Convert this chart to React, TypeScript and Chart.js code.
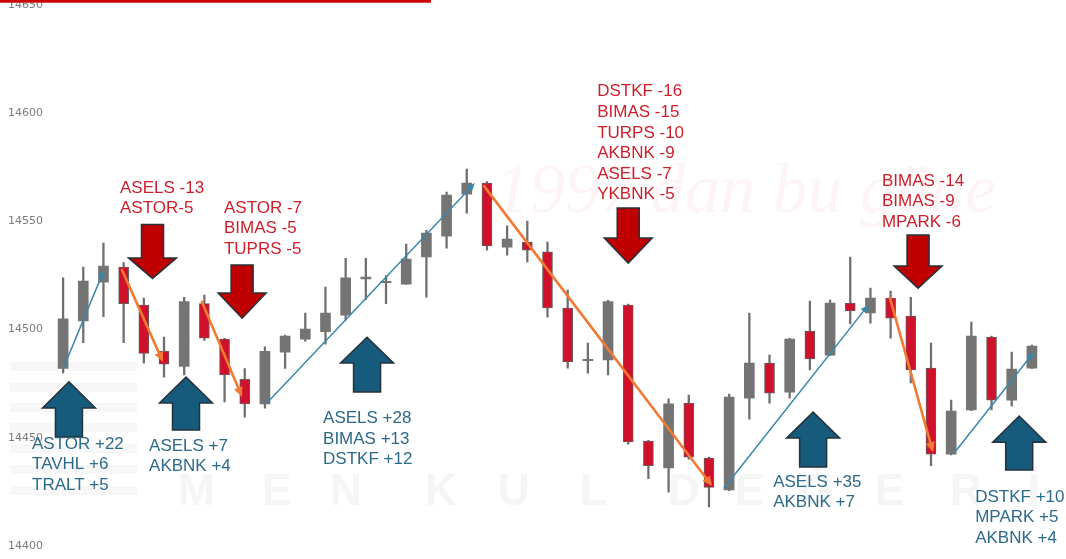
import React, { useEffect, useRef } from "react";
import { Chart, registerables } from "chart.js";

Chart.register(...registerables);

// ---- Data ----
const candleLabels = [
  "1", "2", "3", "4", "5", "6", "7", "8", "9", "10",
  "11", "12", "13", "14", "15", "16", "17", "18", "19", "20",
  "21", "22", "23", "24", "25", "26", "27", "28", "29", "30",
  "31", "32", "33", "34", "35", "36", "37", "38", "39", "40",
  "41", "42", "43", "44", "45", "46", "47", "48", "49",
];

const opens = [
  14482, 14504, 14522, 14529, 14511.4, 14490, 14483, 14512, 14495.6, 14477,
  14465.6, 14489.6, 14495.6, 14499, 14506.7, 14523.5, 14521.7, 14521, 14533.6, 14543.3,
  14562.7, 14567.8, 14538.2, 14540.5, 14536, 14510, 14485.6, 14486, 14511.4, 14448.4,
  14436, 14466, 14440.6, 14425.8, 14468.3, 14484.5, 14471, 14499.3, 14488.2, 14512.3,
  14507.7, 14514.6, 14506.3, 14482.2, 14442.4, 14462.8, 14496.6, 14467.4, 14482.2,
];
const highs = [
  14524, 14529, 14540, 14531, 14514.6, 14496.6, 14515, 14516, 14496, 14482,
  14492, 14497.5, 14507.7, 14519.7, 14533, 14533, 14525, 14539.6, 14546, 14563.7,
  14574.3, 14568.5, 14548, 14550.2, 14540.5, 14518.3, 14493.8, 14513.5, 14511.8, 14448.8,
  14468, 14469.7, 14441, 14470.2, 14507.7, 14488.2, 14496, 14513.2, 14513.7, 14533.6,
  14519.2, 14517.8, 14515, 14493.8, 14467.4, 14503.5, 14497, 14489.6, 14492.8,
];
const lows = [
  14480, 14494, 14506, 14494, 14484.5, 14478, 14479, 14495, 14466.5, 14459.5,
  14463.7, 14482, 14494.7, 14493.3, 14504.4, 14514, 14512, 14521, 14515, 14537.7,
  14553.9, 14536.8, 14534.5, 14531.3, 14505.8, 14482.2, 14479.9, 14479, 14447, 14431,
  14424.8, 14440, 14418, 14425.5, 14458.6, 14466, 14468.3, 14481.3, 14488, 14502.6,
  14503, 14496.1, 14475.3, 14437, 14442, 14462.5, 14462.8, 14464.6, 14482,
];
const closes = [
  14505, 14522.5, 14529.4, 14512, 14489, 14484, 14513, 14496, 14479, 14465.6,
  14490, 14497, 14500.3, 14507.7, 14524, 14524.3, 14522.3, 14532.6, 14544.7, 14562.3,
  14567.8, 14538.7, 14541.9, 14536.8, 14510, 14485, 14486.3, 14513, 14448, 14437,
  14465.6, 14441, 14427, 14468.8, 14484.5, 14470.6, 14495.6, 14486.4, 14512.3, 14508.6,
  14514.6, 14505.3, 14481.3, 14442.4, 14462.3, 14497, 14467.4, 14481.7, 14492.4,
];

const yTicks = [14400, 14450, 14500, 14550, 14600, 14650];

// trend lines: [fromIndex, fromValue, toIndex, toValue]
const blueTrends = [
  [0.05, 14483, 2.03, 14527.6],
  [10.1, 14466, 20.4, 14567.8],
  [32.75, 14426.7, 39.9, 14511.4],
  [44.15, 14442.9, 48.1, 14489.6],
];
const orangeTrends = [
  [2.92, 14527.6, 4.95, 14485],
  [6.88, 14512.8, 8.87, 14468.8],
  [20.86, 14566.4, 32.16, 14427.6],
  [40.97, 14514.6, 43.1, 14443.3],
];

// block arrows: [centerIndex, tailValue, headBaseValue, tipValue]
const sellArrows = [
  [4.43, 14548.7, 14533.2, 14523.7],
  [8.87, 14529.9, 14516.9, 14505.3],
  [28.0, 14556.3, 14542.4, 14530.8],
  [42.36, 14543.8, 14529.4, 14519.2],
];
const buyArrows = [
  [0.29, 14450.3, 14463.7, 14475.9],
  [6.09, 14453.5, 14466.0, 14478.0],
  [15.06, 14471.1, 14484.5, 14496.5],
  [37.16, 14436.4, 14449.8, 14461.8],
  [47.37, 14435.0, 14447.9, 14460.0],
];

// note anchors: [leftIndex, firstLineValue]
const buyNoteAnchors = [
  [-1.54, 14447.0],
  [4.26, 14446.1],
  [12.88, 14458.9],
  [35.18, 14429.5],
  [45.19, 14422.5],
];
const buyNoteLines = [
  ["ASTOR +22", "TAVHL +6", "TRALT +5"],
  ["ASELS +7", "AKBNK +4"],
  ["ASELS +28", "BIMAS +13", "DSTKF +12"],
  ["ASELS +35", "AKBNK +7"],
  ["DSTKF +10", "MPARK +5", "AKBNK +4"],
];
const sellNoteAnchors = [
  [2.82, 14565.5],
  [7.97, 14556.3],
  [26.46, 14610.1],
  [40.57, 14568.7],
];
const sellNoteLines = [
  ["ASELS -13", "ASTOR-5"],
  ["ASTOR -7", "BIMAS -5", "TUPRS -5"],
  ["DSTKF -16", "BIMAS -15", "TURPS -10", "AKBNK -9", "ASELS -7", "YKBNK -5"],
  ["BIMAS -14", "BIMAS -9", "MPARK -6"],
];

// ---- Styles ----
const RED_CANDLE = "#d0112b";
const GRAY_CANDLE = "#747474";
const WICK = "#6e6e6e";
const BLUE_LINE = "#3a87ad";
const ORANGE_LINE = "#f07a32";
const SELL_FILL = "#c00000";
const BUY_FILL = "#165b7c";
const ARROW_EDGE = "#25323c";
const SELL_TEXT = "#cc1f2b";
const BUY_TEXT = "#2c6a8c";
const LINE_GAP = 20.6;

function drawArrowHead(ctx: CanvasRenderingContext2D, x0: number, y0: number, x1: number, y1: number, len: number, half: number) {
  const a = Math.atan2(y1 - y0, x1 - x0);
  ctx.beginPath();
  ctx.moveTo(x1, y1);
  ctx.lineTo(x1 - len * Math.cos(a) + half * Math.sin(a), y1 - len * Math.sin(a) - half * Math.cos(a));
  ctx.lineTo(x1 - len * Math.cos(a) - half * Math.sin(a), y1 - len * Math.sin(a) + half * Math.cos(a));
  ctx.closePath();
  ctx.fill();
}

const annotationPlugin = {
  id: "tradeAnnotations",
  beforeDatasetsDraw(chart: any) {
    const ctx: CanvasRenderingContext2D = chart.ctx;
    ctx.save();
    // faint watermark
    ctx.fillStyle = "rgba(225, 60, 80, 0.055)";
    ctx.font = 'italic 70px "Liberation Serif", serif';
    ctx.textBaseline = "alphabetic";
    ctx.fillText("1997'dan bu güne", 495, 212);
    ctx.fillStyle = "#f7f7f7";
    const stripeY = [362, 383, 403, 423, 444, 465, 486];
    stripeY.forEach((y) => ctx.fillRect(10, y, 127, 9));
    ctx.fillStyle = "#f5f5f5";
    ctx.font = 'bold 44px "Liberation Sans", Arial';
    const letters = ["M", "E", "N", "K", "U", "L", "D", "E", "Ğ", "E", "R", "İ"];
    const lx = [178, 262, 330, 425, 498, 580, 668, 735, 800, 875, 950, 1028];
    letters.forEach((l, i) => ctx.fillText(l, lx[i], 505));
    ctx.restore();
  },
  afterDatasetsDraw(chart: any) {
    const ctx: CanvasRenderingContext2D = chart.ctx;
    const xs = chart.scales.x;
    const ys = chart.scales.y;
    const px = (i: number) => xs.getPixelForValue(i);
    const py = (v: number) => ys.getPixelForValue(v);
    ctx.save();

    // trend lines
    const drawTrend = (t: number[], color: string, width: number, len: number, half: number) => {
      const x0 = px(t[0]), y0 = py(t[1]), x1 = px(t[2]), y1 = py(t[3]);
      const a = Math.atan2(y1 - y0, x1 - x0);
      ctx.strokeStyle = color;
      ctx.fillStyle = color;
      ctx.lineWidth = width;
      ctx.lineCap = "round";
      ctx.beginPath();
      ctx.moveTo(x0, y0);
      ctx.lineTo(x1 - len * 0.7 * Math.cos(a), y1 - len * 0.7 * Math.sin(a));
      ctx.stroke();
      drawArrowHead(ctx, x0, y0, x1, y1, len, half);
    };
    blueTrends.forEach((t) => drawTrend(t, BLUE_LINE, 1.5, 8, 3.5));
    orangeTrends.forEach((t) => drawTrend(t, ORANGE_LINE, 2.6, 10, 4.5));

    // block arrows
    const drawBlock = (a: number[], fill: string, sw: number, hw: number) => {
      const cx = px(a[0]);
      const tail = py(a[1]), base = py(a[2]), tip = py(a[3]);
      ctx.beginPath();
      ctx.moveTo(cx - sw / 2, tail);
      ctx.lineTo(cx + sw / 2, tail);
      ctx.lineTo(cx + sw / 2, base);
      ctx.lineTo(cx + hw / 2, base);
      ctx.lineTo(cx, tip);
      ctx.lineTo(cx - hw / 2, base);
      ctx.lineTo(cx - sw / 2, base);
      ctx.closePath();
      ctx.fillStyle = fill;
      ctx.fill();
      ctx.lineJoin = "miter";
      ctx.strokeStyle = ARROW_EDGE;
      ctx.lineWidth = 1.5;
      ctx.stroke();
    };
    sellArrows.forEach((a) => drawBlock(a, SELL_FILL, 22, 48));
    buyArrows.forEach((a) => drawBlock(a, BUY_FILL, 27, 53));

    // notes
    ctx.font = '17px "Liberation Sans", Arial, sans-serif';
    ctx.textAlign = "left";
    ctx.textBaseline = "middle";
    const drawNotes = (anchors: number[][], lines: string[][], color: string) => {
      ctx.fillStyle = color;
      anchors.forEach((an, k) => {
        const x = px(an[0]);
        const y = py(an[1]);
        lines[k].forEach((s, j) => ctx.fillText(s, x, y + j * LINE_GAP));
      });
    };
    drawNotes(buyNoteAnchors, buyNoteLines, BUY_TEXT);
    drawNotes(sellNoteAnchors, sellNoteLines, SELL_TEXT);

    ctx.restore();
  },
  afterDraw(chart: any) {
    const ctx: CanvasRenderingContext2D = chart.ctx;
    ctx.save();
    ctx.fillStyle = "#cc0000";
    ctx.fillRect(0, 0, 431, 2.7);
    ctx.restore();
  },
};

export default function App() {
  const canvasRef = useRef<HTMLCanvasElement | null>(null);

  useEffect(() => {
    document.body.style.margin = "0";
    const canvas = canvasRef.current;
    if (!canvas) return;
    const isUp = opens.map((o, i) => closes[i] >= o);
    const chart = new Chart(canvas, {
      type: "bar",
      data: {
        labels: candleLabels,
        datasets: [
          {
            label: "wick",
            data: lows.map((l, i) => [l, highs[i]]) as any,
            backgroundColor: WICK,
            barThickness: 1.6,
            grouped: false,
            order: 2,
          } as any,
          {
            label: "body",
            data: opens.map((o, i) => [o, closes[i]]) as any,
            backgroundColor: isUp.map((u) => (u ? GRAY_CANDLE : RED_CANDLE)),
            borderColor: isUp.map((u) => (u ? GRAY_CANDLE : "#6a5a5a")),
            borderWidth: isUp.map((u) => (u ? 0 : 1)),
            borderSkipped: false,
            barThickness: 10,
            grouped: false,
            order: 1,
          } as any,
        ],
      },
      options: {
        animation: false,
        responsive: false,
        maintainAspectRatio: false,
        layout: { padding: { left: 0, right: 24, top: 5.5, bottom: 13.3 } },
        plugins: {
          legend: { display: false },
          tooltip: { enabled: false },
        },
        scales: {
          x: { display: false, grid: { display: false } },
          y: {
            min: 14400,
            max: 14650,
            afterBuildTicks: (s: any) => {
              s.ticks = yTicks.map((v) => ({ value: v }));
            },
            afterFit: (s: any) => {
              s.width = 53;
              s.paddingTop = 0;
              s.paddingBottom = 0;
            },
            grid: { display: false, drawTicks: false },
            border: { display: false },
            ticks: {
              padding: 10,
              color: "#7a7a7a",
              font: { family: '"DejaVu Sans", sans-serif', size: 11 },
              callback: (v: any) => String(v),
            },
          },
        },
      } as any,
      plugins: [annotationPlugin],
    });
    return () => chart.destroy();
  }, []);

  return (
    <div style={{ position: "absolute", left: 0, top: 0, width: 1066, height: 559, background: "#fff" }}>
      <canvas ref={canvasRef} width={1066} height={559} style={{ display: "block" }} />
    </div>
  );
}
